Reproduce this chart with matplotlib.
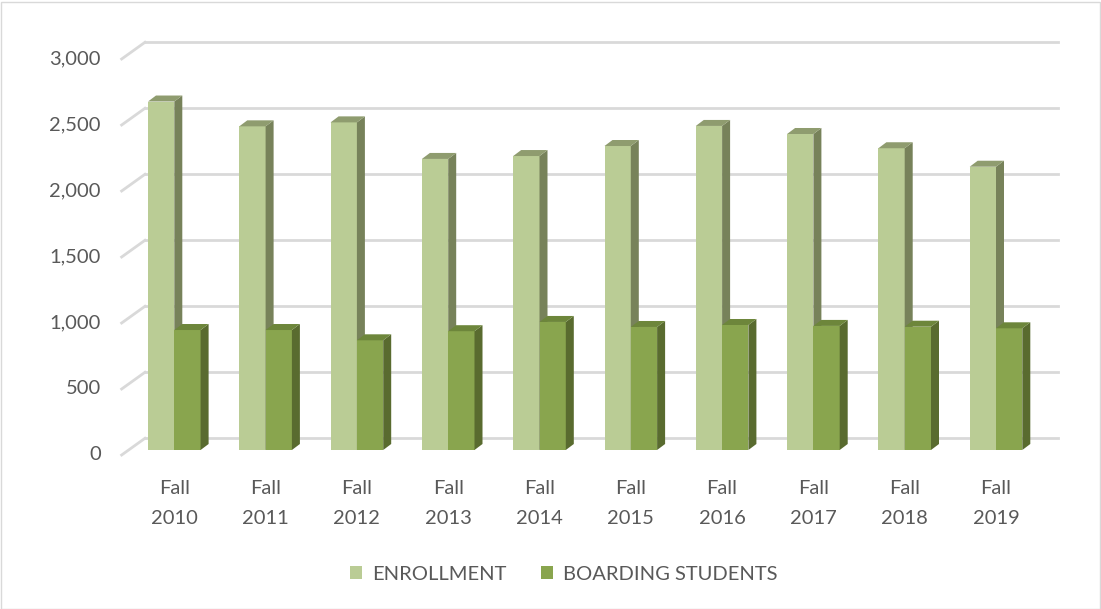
import matplotlib
matplotlib.use('Agg')
import matplotlib.pyplot as plt
from matplotlib.patches import Polygon, Rectangle, Patch
import numpy as np

# Data
years = ['2010', '2011', '2012', '2013', '2014', '2015', '2016', '2017', '2018', '2019']
labels = ['Fall\n' + y for y in years]
enrollment = [2640, 2452, 2482, 2205, 2227, 2303, 2455, 2394, 2286, 2146]
boarding = [909, 909, 831, 900, 970, 932, 947, 940, 934, 922]
yticks = [0, 500, 1000, 1500, 2000, 2500, 3000]

# Style
plt.rcParams.update({
    'font.family': ['Lato', 'DejaVu Sans'],
    'font.size': 14.5,
    'text.color': '#595959',
    'xtick.color': '#595959',
})

ENR = {'face': '#BACC95', 'top': '#8F9C6F', 'side': '#77825A'}
BRD = {'face': '#89A54E', 'top': '#6D863B', 'side': '#596B2F'}
GRID = '#D9D9D9'

W, H = 1101, 609
fig = plt.figure(figsize=(W / 100, H / 100), dpi=100)

# axes placed in pixels: bar plane, x from 128.65 to 1041.65, y=0 at 450, y=3000 at 54
left_px, right_px, y0_px, ytop_px = 128.65, 1041.65, 450, 54
ax = fig.add_axes([left_px / W, (H - y0_px) / H, (right_px - left_px) / W, (y0_px - ytop_px) / H])
ax.set_xlim(-0.5, 9.5)
ax.set_ylim(0, 3000)
for s in ax.spines.values():
    s.set_visible(False)
ax.set_yticks([])

ppx = (right_px - left_px) / 10      # pixels per category
ppy = (y0_px - ytop_px) / 3000       # pixels per unit value

def px2x(p):
    return p / ppx

def px2y(p):
    return p / ppy

# back wall and side wall offsets (pixels, from bar plane)
bdx, bdy = px2x(16.3), px2y(11.7)
fdx, fdy = px2x(-7.0), px2y(-5.0)

for v in yticks:
    ax.plot([-0.5 + bdx, 9.5 + bdx], [v + bdy, v + bdy], color=GRID, lw=2, clip_on=False, zorder=1)
    ax.plot([-0.5 + fdx, -0.5 + bdx], [v + fdy, v + bdy], color=GRID, lw=2, clip_on=False, zorder=1)
    ax.text(-0.5 + fdx - px2x(21), v + fdy, f'{v:,}', ha='right', va='center',
            color='#595959', fontsize=14.5, clip_on=False)

# 3D-look bars
bw = px2x(26.3)
ddx, ddy = px2x(8), px2y(6)

def bar3d(x0, v, c, z):
    ax.add_patch(Rectangle((x0, 0), bw, v, facecolor=c['face'], edgecolor='none', zorder=z))
    ax.add_patch(Polygon([(x0 + bw, 0), (x0 + bw + ddx, ddy), (x0 + bw + ddx, v + ddy), (x0 + bw, v)],
                         closed=True, facecolor=c['side'], edgecolor='none', zorder=z, clip_on=False))
    ax.add_patch(Polygon([(x0, v), (x0 + ddx, v + ddy), (x0 + bw + ddx, v + ddy), (x0 + bw, v)],
                         closed=True, facecolor=c['top'], edgecolor='none', zorder=z, clip_on=False))

x = np.arange(len(years))
for i in x:
    bar3d(i - bw, enrollment[i], ENR, 2)
    bar3d(i, boarding[i], BRD, 3)

ax.set_xticks(x)
ax.set_xticklabels(labels, linespacing=1.95, fontsize=14.5)
ax.tick_params(axis='x', length=0, pad=21.5)

# Legend
handles = [Patch(facecolor=ENR['face'], label='ENROLLMENT'),
           Patch(facecolor=BRD['face'], label='BOARDING STUDENTS')]
fig.legend(handles=handles, loc='center', bbox_to_anchor=(0.512, (H - 574) / H), ncol=2,
           frameon=False, handlelength=0.6, handleheight=0.6, handletextpad=0.5,
           columnspacing=1.7, fontsize=14.5, labelcolor='#595959')

# Chart border
fig.add_artist(Rectangle((0.5 / W, 0.5 / H), (W - 2) / W, (H - 2) / H, transform=fig.transFigure,
                         fill=False, edgecolor='#D9D9D9', lw=1))

fig.savefig('out.png', dpi=100)
